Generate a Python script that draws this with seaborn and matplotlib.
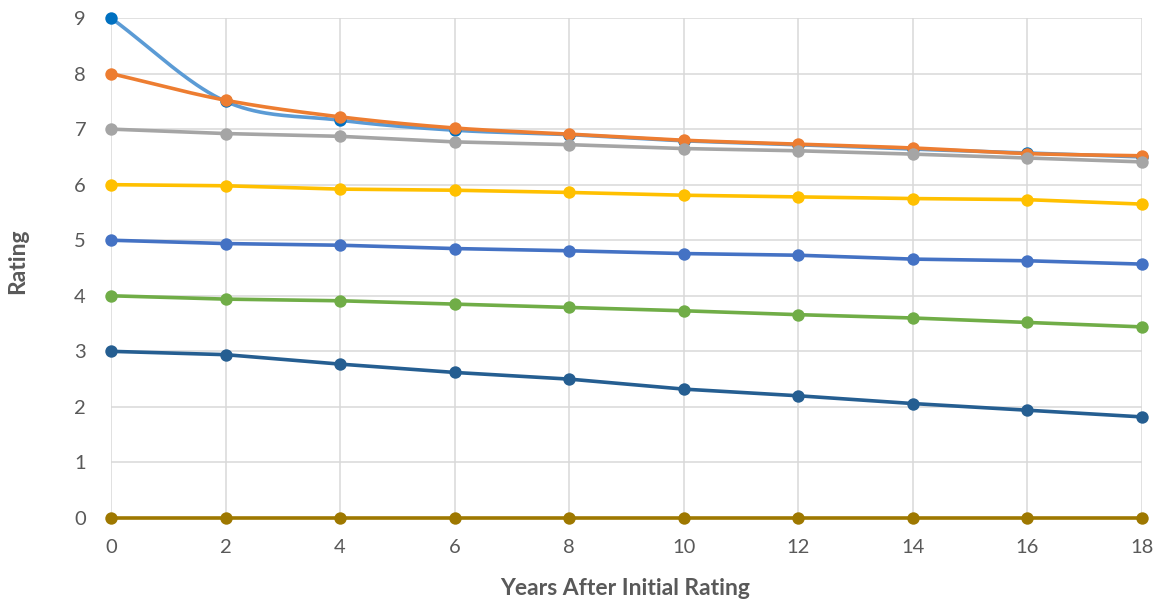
import numpy as np
import pandas as pd
import matplotlib
matplotlib.use("Agg")
import matplotlib.pyplot as plt
import seaborn as sns

# Years after the initial rating
years = [0, 2, 4, 6, 8, 10, 12, 14, 16, 18]

# Rating paths, one per starting rating
rating_9 = [9.00, 7.50, 7.16, 6.98, 6.90, 6.79, 6.72, 6.64, 6.57, 6.50]
rating_8 = [8.00, 7.52, 7.22, 7.02, 6.91, 6.80, 6.73, 6.66, 6.56, 6.52]
rating_7 = [7.00, 6.92, 6.87, 6.77, 6.72, 6.65, 6.61, 6.55, 6.48, 6.41]
rating_6 = [6.00, 5.98, 5.92, 5.90, 5.86, 5.81, 5.78, 5.75, 5.73, 5.65]
rating_5 = [5.00, 4.94, 4.91, 4.85, 4.81, 4.76, 4.73, 4.66, 4.63, 4.57]
rating_4 = [4.00, 3.94, 3.91, 3.85, 3.79, 3.73, 3.66, 3.60, 3.52, 3.44]
rating_3 = [3.00, 2.94, 2.77, 2.62, 2.50, 2.32, 2.20, 2.06, 1.94, 1.82]
rating_0 = [0.00, 0.00, 0.00, 0.00, 0.00, 0.00, 0.00, 0.00, 0.00, 0.00]

series = [
    ("9", rating_9, "#5B9BD5", "#0070C0", True),
    ("8", rating_8, "#ED7D31", "#ED7D31", True),
    ("7", rating_7, "#A5A5A5", "#A5A5A5", False),
    ("6", rating_6, "#FFC000", "#FFC000", False),
    ("5", rating_5, "#4472C4", "#4472C4", False),
    ("4", rating_4, "#70AD47", "#70AD47", False),
    ("3", rating_3, "#255E91", "#255E91", False),
    ("0", rating_0, "#9E7800", "#9E7800", False),
]


def catmull_rom(x, y, n=40):
    """Smooth curve through the given points (Catmull-Rom spline)."""
    x = np.asarray(x, float)
    y = np.asarray(y, float)
    xs, ys = [], []
    for i in range(len(x) - 1):
        y0 = y[i - 1] if i > 0 else y[i]
        y3 = y[i + 2] if i + 2 < len(y) else y[i + 1]
        y1, y2 = y[i], y[i + 1]
        m1 = (y2 - y0) / (2.0 if i > 0 else 1.0)
        m2 = (y3 - y1) / (2.0 if i + 2 < len(y) else 1.0)
        t = np.linspace(0, 1, n, endpoint=False)
        h00 = 2 * t**3 - 3 * t**2 + 1
        h10 = t**3 - 2 * t**2 + t
        h01 = -2 * t**3 + 3 * t**2
        h11 = t**3 - t**2
        xs.append(x[i] + t * (x[i + 1] - x[i]))
        ys.append(h00 * y1 + h10 * m1 + h01 * y2 + h11 * m2)
    xs.append([x[-1]])
    ys.append([y[-1]])
    return np.concatenate(xs), np.concatenate(ys)


sns.set_theme(style="white")
plt.rcParams["font.family"] = ["Lato", "DejaVu Sans"]

fig = plt.figure(figsize=(11.6, 6.01), dpi=100)
ax = fig.add_axes([111 / 1160, 1 - 518 / 601, (1142 - 111) / 1160, (518 - 18) / 601])

for z, (name, vals, line_c, mark_c, smooth) in enumerate(series):
    if smooth:
        lx, ly = catmull_rom(years, vals)
    else:
        lx, ly = np.asarray(years, float), np.asarray(vals, float)
    line_df = pd.DataFrame({"year": lx, "rating": ly})
    pts_df = pd.DataFrame({"year": years, "rating": vals})
    sns.lineplot(data=line_df, x="year", y="rating", ax=ax, color=line_c,
                 linewidth=2.6, zorder=3 + z, clip_on=False, sort=False)
    sns.scatterplot(data=pts_df, x="year", y="rating", ax=ax, color=mark_c,
                    s=80, edgecolor=mark_c, linewidth=0, zorder=3 + z,
                    clip_on=False)

ax.set_xlim(0, 18)
ax.set_ylim(0, 9)
ax.set_xticks(years)
ax.set_yticks(range(0, 10))
ax.grid(True, color="#D9D9D9", linewidth=1.1, zorder=0)
ax.set_axisbelow(True)
for sp in ax.spines.values():
    sp.set_visible(False)
ax.tick_params(axis="both", length=0, labelsize=14.5, labelcolor="#595959")
ax.tick_params(axis="x", pad=15)
ax.tick_params(axis="y", pad=18)

ax.set_xlabel("Years After Initial Rating", fontsize=16.5, fontweight="bold",
              color="#595959")
ax.set_ylabel("Rating", fontsize=16.5, fontweight="bold", color="#595959")
ax.xaxis.set_label_coords((625 - 111) / 1031, (518 - 578) / 500)
ax.yaxis.set_label_coords((28 - 111) / 1031, (518 - 261) / 500)

fig.savefig("out.png", dpi=100)
